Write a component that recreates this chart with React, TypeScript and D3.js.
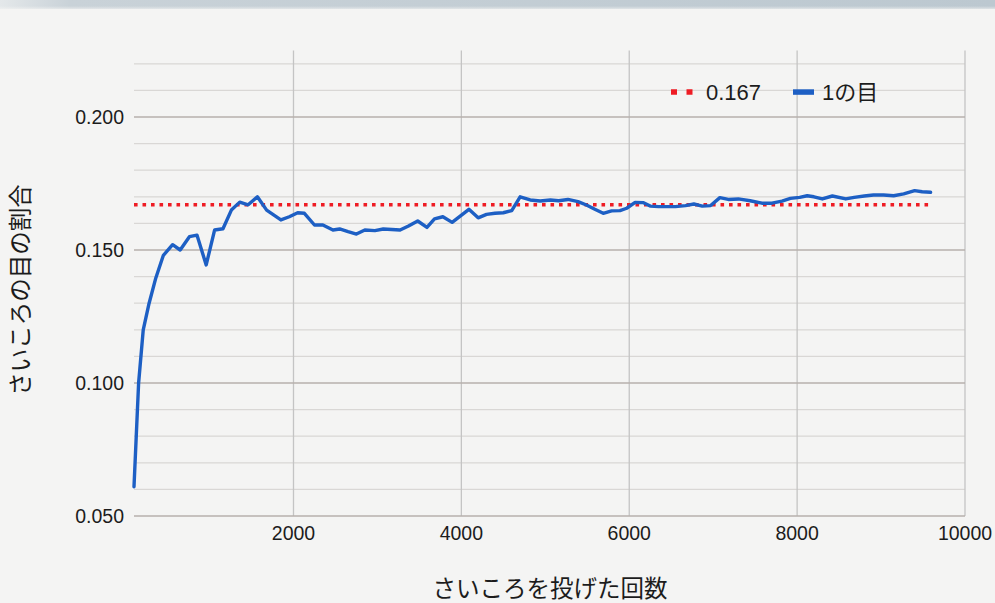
import React from "react";
import * as d3 from "d3";

const trials = [100, 155, 210, 280, 360, 450, 560, 650, 760, 850, 960, 1060, 1160, 1260, 1360, 1460, 1570, 1680, 1850, 1950, 2050, 2130, 2250, 2350, 2470, 2550, 2650, 2750, 2850, 2970, 3070, 3270, 3370, 3480, 3590, 3680, 3780, 3890, 4090, 4200, 4300, 4400, 4500, 4600, 4700, 4820, 4940, 5060, 5160, 5270, 5390, 5490, 5590, 5690, 5790, 5890, 5970, 6070, 6170, 6250, 6350, 6550, 6670, 6770, 6870, 6970, 7080, 7180, 7300, 7440, 7580, 7700, 7820, 7920, 8030, 8120, 8200, 8300, 8420, 8580, 8680, 8800, 8910, 9030, 9150, 9270, 9400, 9490, 9590];

const ratioOne = [0.061, 0.1, 0.12, 0.13, 0.1395, 0.148, 0.152, 0.15, 0.155, 0.1556, 0.1444, 0.1575, 0.158, 0.165, 0.168, 0.167, 0.17, 0.165, 0.1613, 0.1625, 0.164, 0.1638, 0.1594, 0.1594, 0.1575, 0.1579, 0.1569, 0.156, 0.1575, 0.1573, 0.1579, 0.1575, 0.159, 0.1609, 0.1585, 0.1617, 0.1625, 0.1604, 0.1653, 0.1621, 0.1634, 0.1638, 0.164, 0.1648, 0.17, 0.1688, 0.1684, 0.1688, 0.1685, 0.169, 0.1682, 0.1669, 0.1653, 0.1638, 0.1647, 0.1648, 0.1657, 0.1679, 0.1678, 0.1665, 0.1663, 0.1663, 0.1667, 0.1673, 0.1665, 0.1667, 0.1697, 0.169, 0.1692, 0.1685, 0.1676, 0.1676, 0.1684, 0.1694, 0.1698, 0.1704, 0.17, 0.1692, 0.1703, 0.1692, 0.1698, 0.1703, 0.1707, 0.1707, 0.1704, 0.1711, 0.1723, 0.1719, 0.1717];

const theoretical = 0.167;

const xTicks = [2000, 4000, 6000, 8000, 10000];
const yMajorTicks = [0.05, 0.1, 0.15, 0.2];
const yMinorTicks = [0.06, 0.07, 0.08, 0.09, 0.11, 0.12, 0.13, 0.14, 0.16, 0.17, 0.18, 0.19, 0.21, 0.22];

const xTitle = "さいころを投げた回数";
const yTitle = "さいころの目の割合";
const seriesNames = ["0.167", "1の目"];

const W = 995;
const H = 603;
const latin = "'Liberation Sans', Arial, 'Noto Sans', sans-serif";
const cjk = "'Liberation Sans', 'Noto Sans CJK JP', sans-serif";

export default function App() {
  const x = d3.scaleLinear().domain([100, 10000]).range([134, 965]);
  const y = d3.scaleLinear().domain([0.05, 0.225]).range([516, 50.5]);
  const pts = trials.map((t, i) => [t, ratioOne[i]] as [number, number]);
  const line = d3
    .line<[number, number]>()
    .x((d) => x(d[0]))
    .y((d) => y(d[1]));
  const x0 = x(trials[0]);
  const x1 = x(trials[trials.length - 1]);
  const [left, right] = x.range();

  return (
    <div style={{ position: "absolute", left: 0, top: 0, width: W, height: H }}>
      <svg width={W} height={H} viewBox={`0 0 ${W} ${H}`} style={{ display: "block" }}>
        <defs>
          <linearGradient id="band" x1="0" x2="1" y1="0" y2="0">
            <stop offset="0" stopColor="#e4e8ea" />
            <stop offset="0.07" stopColor="#c9d2d8" />
            <stop offset="1" stopColor="#bcc8d0" />
          </linearGradient>
          <linearGradient id="bandFade" x1="0" x2="0" y1="0" y2="1">
            <stop offset="0" stopColor="#f4f4f3" stopOpacity="0" />
            <stop offset="1" stopColor="#f4f4f3" stopOpacity="1" />
          </linearGradient>
        </defs>
        <rect x={0} y={0} width={W} height={H} fill="#f4f4f3" />
        <rect x={0} y={0} width={W} height={9} fill="url(#band)" />
        <rect x={0} y={6} width={W} height={5} fill="url(#bandFade)" />

        {/* minor horizontal gridlines */}
        {yMinorTicks.map((v) => (
          <line key={"mn" + v} x1={left} x2={right} y1={y(v)} y2={y(v)} stroke="#d9d7d5" strokeWidth={1.3} />
        ))}
        {/* vertical gridlines */}
        {xTicks.map((v) => (
          <line key={"vx" + v} x1={x(v)} x2={x(v)} y1={y(0.225)} y2={y(0.05)} stroke="#c4c4c4" strokeWidth={1.3} />
        ))}
        {/* major horizontal gridlines */}
        {yMajorTicks.map((v) => (
          <line key={"mj" + v} x1={left} x2={right} y1={y(v)} y2={y(v)} stroke="#b7b0ac" strokeWidth={1.4} />
        ))}

        {/* y tick labels */}
        {yMajorTicks.map((v) => (
          <text key={"yl" + v} x={124} y={y(v)} dy="0.36em" textAnchor="end" fontFamily={latin} fontSize={19.5} fill="#1c1c1c">
            {d3.format(".3f")(v)}
          </text>
        ))}
        {/* x tick labels */}
        {xTicks.map((v) => (
          <text key={"xl" + v} x={x(v)} y={540} textAnchor="middle" fontFamily={latin} fontSize={19.5} fill="#1c1c1c">
            {v}
          </text>
        ))}

        {/* theoretical dotted line */}
        <line x1={x0} x2={x1} y1={y(theoretical)} y2={y(theoretical)} stroke="#ee1c24" strokeWidth={3.6} strokeDasharray="3.6 4.9" />

        {/* data line */}
        <path d={line(pts) || ""} fill="none" stroke="#1d5fc4" strokeWidth={3.4} strokeLinejoin="round" strokeLinecap="round" />

        {/* legend */}
        <line x1={671} x2={693} y1={92} y2={92} stroke="#ee1c24" strokeWidth={5.5} strokeDasharray="6 9.5" />
        <text x={706} y={92} dy="0.36em" fontFamily={latin} fontSize={22} fill="#1c1c1c">
          {seriesNames[0]}
        </text>
        <rect x={793} y={89.3} width={21} height={5.5} fill="#1d5fc4" />
        <text x={822} y={92} dy="0.36em" fontFamily={cjk} fontSize={22} fill="#1c1c1c">
          {seriesNames[1]}
        </text>

        {/* axis titles */}
        <text x={550} y={597} textAnchor="middle" fontFamily={cjk} fontSize={23.5} fill="#1c1c1c">
          {xTitle}
        </text>
        <text transform={`translate(29, 290) rotate(-90)`} textAnchor="middle" fontFamily={cjk} fontSize={23.5} fill="#1c1c1c">
          {yTitle}
        </text>
      </svg>
    </div>
  );
}
